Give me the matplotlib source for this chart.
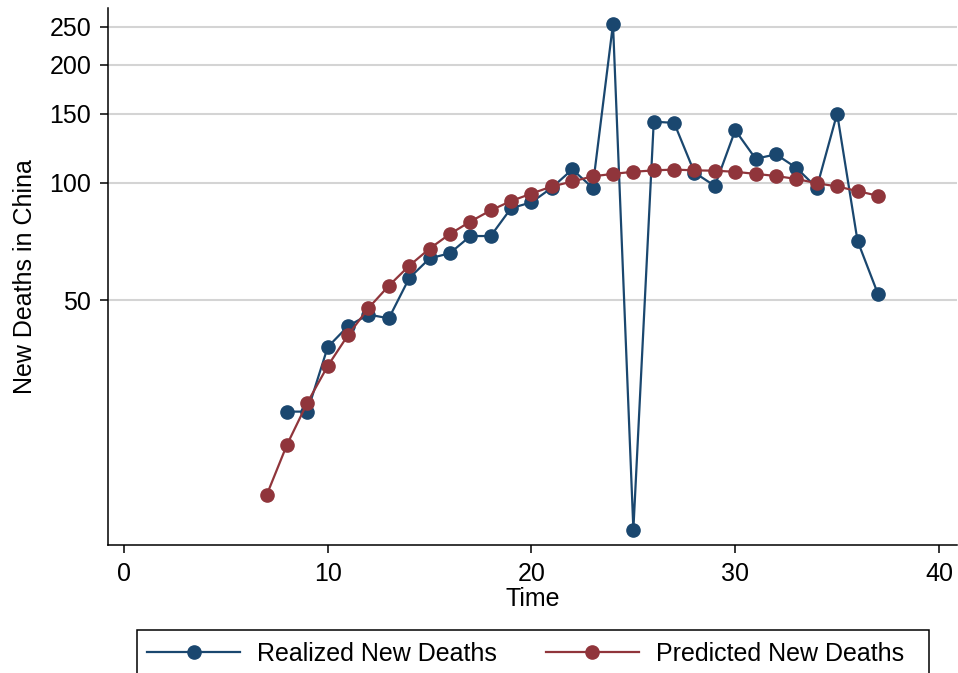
import matplotlib
matplotlib.use("Agg")
import matplotlib.pyplot as plt
from matplotlib.lines import Line2D
from matplotlib.patches import Rectangle
import numpy as np

plt.rcParams["font.family"] = ["Liberation Sans", "DejaVu Sans"]

# ---- data ----
t_real = list(range(8, 38))
realized = [26, 26, 38, 43, 46, 45, 57, 64, 66, 73, 73, 86, 89, 97, 108, 97,
            254, 13, 143, 142, 106, 98, 136, 115, 118, 109, 97, 150, 71, 52]

t_pred = list(range(7, 38))
predicted = [15.9, 21.4, 27.4, 34.0, 40.8, 47.8, 54.5, 61.3, 67.8, 73.9, 79.5,
             84.9, 89.7, 93.7, 97.7, 100.6, 103.7, 105.2, 106.5, 107.4, 107.9,
             107.4, 107.2, 106.5, 105.2, 103.9, 102.1, 99.6, 97.7, 95.1, 92.5]

y_ticks = [50, 100, 150, 200, 250]
x_ticks = [0, 10, 20, 30, 40]

BLUE = "#1a476f"
RED = "#90353b"
FS = 18

fig = plt.figure(figsize=(9.58, 6.73), dpi=100)
ax = fig.add_axes([0.1127, 0.1896, 0.8862, 0.7985])

ax.plot(t_real, realized, color=BLUE, lw=1.6, marker="o", ms=9.5, zorder=3)
ax.plot(t_pred, predicted, color=RED, lw=1.6, marker="o", ms=9.5, zorder=4)

ax.set_yscale("log")
ax.set_ylim(11.84, 279)
ax.set_xlim(-0.785, 40.88)
ax.set_yticks(y_ticks)
ax.set_yticklabels([str(v) for v in y_ticks])
ax.yaxis.set_minor_locator(matplotlib.ticker.NullLocator())
ax.set_xticks(x_ticks)

ax.grid(axis="y", color="#d4d4d4", lw=1.5, zorder=0)
ax.set_axisbelow(True)

for s in ["top", "right"]:
    ax.spines[s].set_visible(False)
for s in ["left", "bottom"]:
    ax.spines[s].set_linewidth(1.1)
    ax.spines[s].set_color("black")

ax.tick_params(axis="both", labelsize=FS, length=6, width=1.1, direction="out", pad=6)

ax.set_xlabel("Time", fontsize=FS, labelpad=1)
ax.set_ylabel("New Deaths in China", fontsize=FS, labelpad=9)

# legend: entries without frame, box drawn separately
handles = [
    Line2D([], [], color=BLUE, lw=1.6, marker="o", ms=9.5),
    Line2D([], [], color=RED, lw=1.6, marker="o", ms=9.5),
]
leg = fig.legend(handles, ["Realized New Deaths", "Predicted New Deaths"],
                 loc="upper left", bbox_to_anchor=(147 / 958, 1 - 642 / 673),
                 ncol=2, fontsize=FS, frameon=False,
                 handlelength=3.72, handletextpad=0.68, columnspacing=1.96,
                 borderpad=0, borderaxespad=0)

box = Rectangle((137 / 958, -0.02), (929 - 137) / 958, 0.02 + 1 - 630 / 673,
                transform=fig.transFigure, fill=False, edgecolor="black", lw=1.1)
fig.add_artist(box)

fig.savefig("out.png", dpi=100)
